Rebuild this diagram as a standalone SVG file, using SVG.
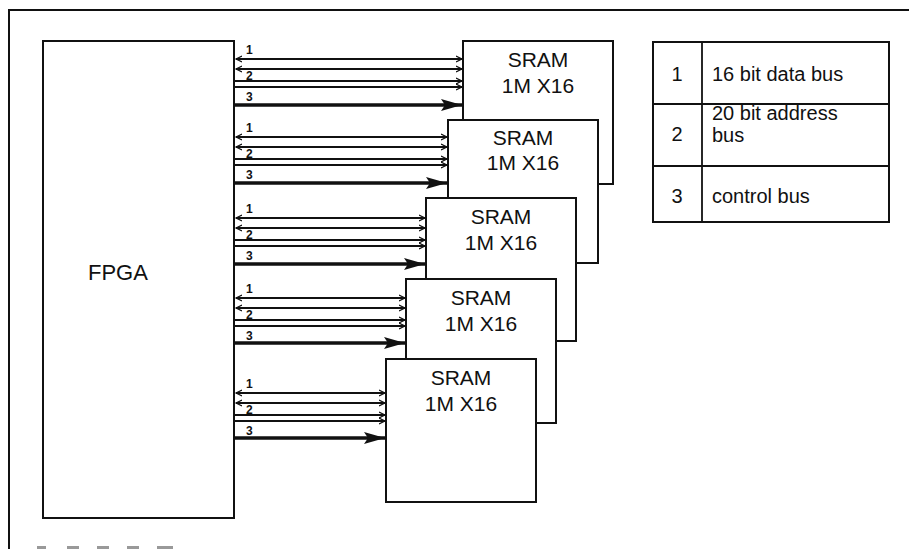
<svg xmlns="http://www.w3.org/2000/svg" width="909" height="549" viewBox="0 0 909 549">
<defs>
<style>
.box{fill:#fff;stroke:#111;stroke-width:2}
.frame{fill:none;stroke:#111;stroke-width:2}
.t{font-family:"Liberation Sans",Arial,sans-serif;fill:#111}
.big{font-size:21px}
.leg{font-size:20px}
.num{font-family:"Liberation Sans",Arial,sans-serif;font-size:12px;font-weight:bold;fill:#111}
.thin{stroke:#111;stroke-width:1.8;fill:none}
.thick{stroke:#111;stroke-width:3.5;fill:none}
.dash{fill:#999}
</style>
<marker id="sa" markerUnits="userSpaceOnUse" markerWidth="8" markerHeight="8" refX="6" refY="4" orient="auto-start-reverse">
<path d="M0,1 L6,4 L0,7" fill="none" stroke="#111" stroke-width="1.2"/>
</marker>
<marker id="ta" markerUnits="userSpaceOnUse" markerWidth="22" markerHeight="12" refX="21" refY="6" orient="auto">
<path d="M0,0 L21,6 L0,12 L4,6 Z" fill="#111"/>
</marker>
</defs>
<rect width="909" height="549" fill="#fff"/>
<g id="frame">
<path class="frame" d="M9,549 V10 H909"/>
<rect class="dash" x="37" y="546" width="9" height="3"/>
<rect class="dash" x="67" y="546" width="12" height="3"/>
<rect class="dash" x="97" y="546" width="12" height="3"/>
<rect class="dash" x="127" y="546" width="12" height="3"/>
<rect class="dash" x="157" y="546" width="16" height="3"/>
</g>
<g id="fpga">
<rect class="box" x="43" y="41" width="191" height="477"/>
<text class="t" x="88" y="280" font-size="22">FPGA</text>
</g>
<g id="sram1">
<rect class="box" x="463" y="41" width="150" height="143"/>
<text class="t big" x="538" y="67" text-anchor="middle">SRAM</text>
<text class="t big" x="538" y="93" text-anchor="middle">1M X16</text>
</g>
<g id="sram2">
<rect class="box" x="448" y="120" width="150" height="143"/>
<text class="t big" x="523" y="145" text-anchor="middle">SRAM</text>
<text class="t big" x="523" y="170" text-anchor="middle">1M X16</text>
</g>
<g id="sram3">
<rect class="box" x="426" y="198" width="150" height="143"/>
<text class="t big" x="501" y="224" text-anchor="middle">SRAM</text>
<text class="t big" x="501" y="250" text-anchor="middle">1M X16</text>
</g>
<g id="sram4">
<rect class="box" x="406" y="279" width="150" height="144"/>
<text class="t big" x="481" y="305" text-anchor="middle">SRAM</text>
<text class="t big" x="481" y="331" text-anchor="middle">1M X16</text>
</g>
<g id="sram5">
<rect class="box" x="386" y="359" width="150" height="143"/>
<text class="t big" x="461" y="385" text-anchor="middle">SRAM</text>
<text class="t big" x="461" y="411" text-anchor="middle">1M X16</text>
</g>
<g id="legend">
<rect class="box" x="653" y="42" width="236" height="180"/>
<line class="thin" x1="702" y1="42" x2="702" y2="222"/>
<line class="thin" x1="653" y1="104" x2="889" y2="104"/>
<line class="thin" x1="653" y1="166" x2="889" y2="166"/>
<text class="t leg" x="677" y="81" text-anchor="middle">1</text>
<text class="t leg" x="712" y="81">16 bit data bus</text>
<text class="t leg" x="677" y="141" text-anchor="middle">2</text>
<text class="t leg" x="712" y="120">20 bit address</text>
<text class="t leg" x="712" y="142">bus</text>
<text class="t leg" x="677" y="203" text-anchor="middle">3</text>
<text class="t leg" x="712" y="203">control bus</text>
</g>
<g id="connectors">
<line class="thin" x1="236" y1="59" x2="462" y2="59" marker-start="url(#sa)" marker-end="url(#sa)"/>
<line class="thin" x1="236" y1="69" x2="462" y2="69" marker-start="url(#sa)" marker-end="url(#sa)"/>
<line class="thin" x1="234" y1="81" x2="462" y2="81" marker-end="url(#sa)"/>
<line class="thin" x1="234" y1="87" x2="462" y2="87" marker-end="url(#sa)"/>
<line class="thick" x1="234" y1="105" x2="462" y2="105" marker-end="url(#ta)"/>
<text class="num" x="246" y="54">1</text>
<text class="num" x="246" y="80">2</text>
<text class="num" x="246" y="101">3</text>
<line class="thin" x1="236" y1="137" x2="447" y2="137" marker-start="url(#sa)" marker-end="url(#sa)"/>
<line class="thin" x1="236" y1="147" x2="447" y2="147" marker-start="url(#sa)" marker-end="url(#sa)"/>
<line class="thin" x1="234" y1="159" x2="447" y2="159" marker-end="url(#sa)"/>
<line class="thin" x1="234" y1="165" x2="447" y2="165" marker-end="url(#sa)"/>
<line class="thick" x1="234" y1="183" x2="447" y2="183" marker-end="url(#ta)"/>
<text class="num" x="246" y="132">1</text>
<text class="num" x="246" y="158">2</text>
<text class="num" x="246" y="179">3</text>
<line class="thin" x1="236" y1="218" x2="425" y2="218" marker-start="url(#sa)" marker-end="url(#sa)"/>
<line class="thin" x1="236" y1="228" x2="425" y2="228" marker-start="url(#sa)" marker-end="url(#sa)"/>
<line class="thin" x1="234" y1="240" x2="425" y2="240" marker-end="url(#sa)"/>
<line class="thin" x1="234" y1="246" x2="425" y2="246" marker-end="url(#sa)"/>
<line class="thick" x1="234" y1="264" x2="425" y2="264" marker-end="url(#ta)"/>
<text class="num" x="246" y="213">1</text>
<text class="num" x="246" y="239">2</text>
<text class="num" x="246" y="260">3</text>
<line class="thin" x1="236" y1="298" x2="405" y2="298" marker-start="url(#sa)" marker-end="url(#sa)"/>
<line class="thin" x1="236" y1="308" x2="405" y2="308" marker-start="url(#sa)" marker-end="url(#sa)"/>
<line class="thin" x1="234" y1="320" x2="405" y2="320" marker-end="url(#sa)"/>
<line class="thin" x1="234" y1="326" x2="405" y2="326" marker-end="url(#sa)"/>
<line class="thick" x1="234" y1="343" x2="405" y2="343" marker-end="url(#ta)"/>
<text class="num" x="246" y="293">1</text>
<text class="num" x="246" y="319">2</text>
<text class="num" x="246" y="340">3</text>
<line class="thin" x1="236" y1="393" x2="385" y2="393" marker-start="url(#sa)" marker-end="url(#sa)"/>
<line class="thin" x1="236" y1="403" x2="385" y2="403" marker-start="url(#sa)" marker-end="url(#sa)"/>
<line class="thin" x1="234" y1="415" x2="385" y2="415" marker-end="url(#sa)"/>
<line class="thin" x1="234" y1="421" x2="385" y2="421" marker-end="url(#sa)"/>
<line class="thick" x1="234" y1="438" x2="385" y2="438" marker-end="url(#ta)"/>
<text class="num" x="246" y="388">1</text>
<text class="num" x="246" y="414">2</text>
<text class="num" x="246" y="435">3</text>
</g>
</svg>
